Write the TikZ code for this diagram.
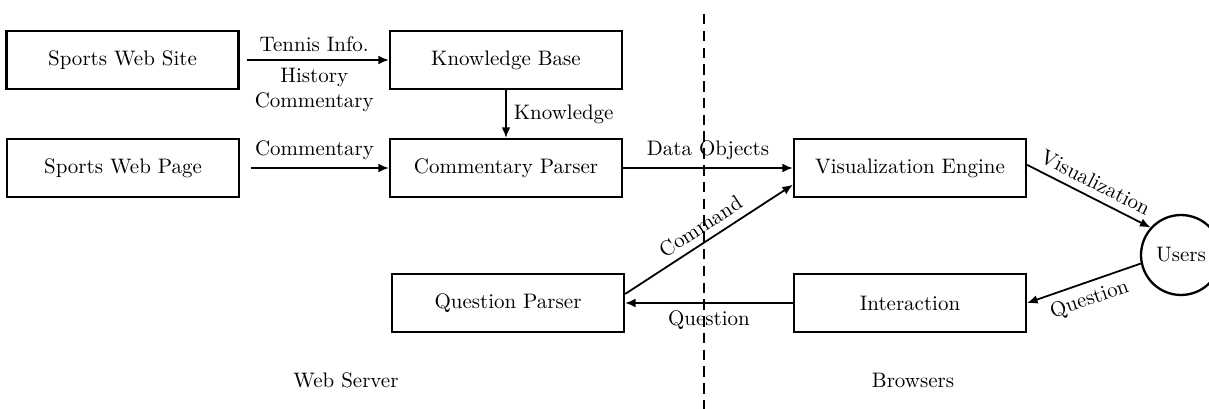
\documentclass[tikz,border=0pt]{standalone}
\usetikzlibrary{arrows.meta,calc}
\begin{document}
\begin{tikzpicture}[x=0.016750cm,y=-0.016750cm,
  box/.style={draw,line width=1.1pt,minimum width=3.886cm,minimum height=0.972cm,inner sep=2pt},
  user/.style={draw,circle,line width=1.1pt,minimum size=1.34cm,inner sep=0pt},
  flow/.style={-{Latex[length=5pt,width=4.2pt]},line width=0.85pt},
  tier/.style={dashed,dash pattern=on 5pt off 3pt,line width=0.95pt}]
\useasboundingbox (0,0) rectangle (1209,409);

% server side boxes
\node[box] (site) at (122.5,60) {Sports Web Site};
\node[box] (kb)   at (506,60)   {Knowledge Base};
\node[box] (page) at (123,168)  {Sports Web Page};
\node[box] (cp)   at (506,168)  {Commentary Parser};
\node[box] (qp)   at (508,303)  {Question Parser};

% browser side boxes
\node[box] (ve)   at (910,168)  {Visualization Engine};
\node[box] (ia)   at (910,303)  {Interaction};
\node[user] (users) at (1181,255) {Users};

% tier separator
\coordinate (sepTop) at (704,14);
\coordinate (sepBot) at (704,409);
\draw[tier] (sepTop) -- (sepBot);

% data flow
\draw[flow,shorten <=3.5pt] (site.east) -- (kb.west)
  node[midway,above] {Tennis Info.}
  node[midway,below,align=center] {History\\Commentary};
\draw[flow] (kb.south) -- (cp.north)
  node[midway,right] {Knowledge};
\draw[flow,shorten <=5pt] (page.east) -- (cp.west)
  node[midway,above] {Commentary};
\draw[flow] (cp.east) -- (ve.west)
  node[midway,above] {Data Objects};
\draw[flow] ([yshift=4.3pt]qp.east) -- ([yshift=-8pt]ve.west)
  node[midway,above,sloped] {Command};
\draw[flow] (ia.west) -- (qp.east)
  node[midway,below] {Question};
\draw[flow] ([yshift=1.5pt]ve.east) -- (users.138)
  node[midway,above,sloped] {Visualization};
\draw[flow] (users.192) -- (ia.east)
  node[midway,below,sloped] {Question};

% tier captions
\node (server)  at (346,380) {Web Server};
\node (browser) at (913,380) {Browsers};
\end{tikzpicture}
\end{document}
